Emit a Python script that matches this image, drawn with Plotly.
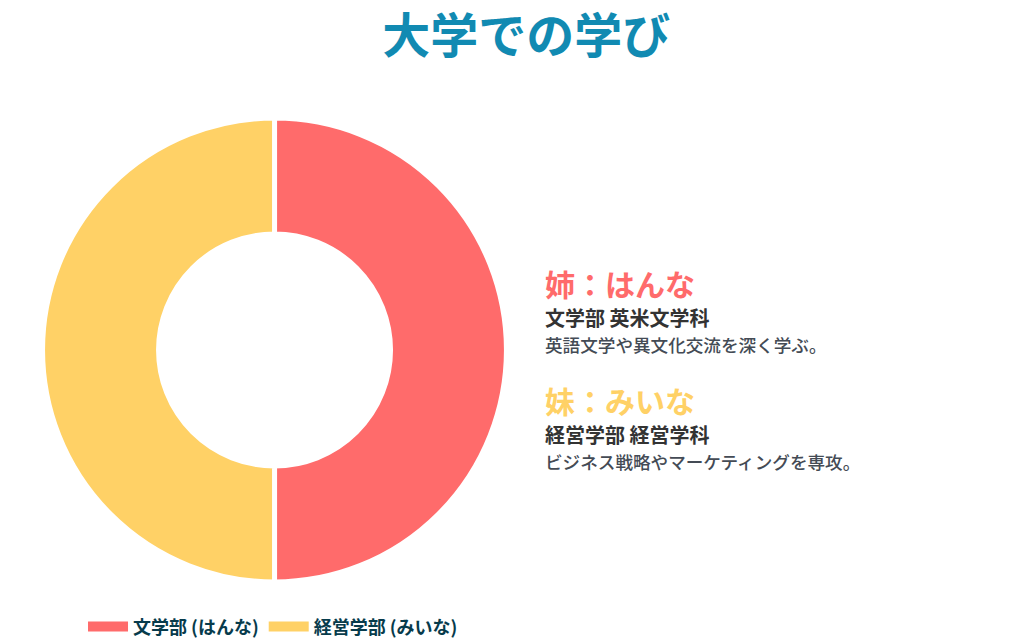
import plotly.graph_objects as go

# data
labels = ['文学部 (はんな)', '経営学部 (みいな)']
values = [50, 50]
colors = ['#FF6B6B', '#FFD166']

names = ['姉：はんな', '妹：みいな']
departments = ['文学部 英米文学科', '経営学部 経営学科']
descriptions = ['英語文学や異文化交流を深く学ぶ。', 'ビジネス戦略やマーケティングを専攻。']

FONT = 'Noto Sans CJK JP'

fig = go.Figure()

fig.add_trace(go.Pie(
    labels=labels,
    values=values,
    hole=0.5,
    sort=False,
    direction='clockwise',
    marker=dict(colors=colors, line=dict(color='white', width=5)),
    textinfo='none',
    hoverinfo='label+percent',
    showlegend=False,
    domain=dict(x=[0.0338, 0.4878], y=[0.1087, 0.8292]),
))

# legend entries drawn as wide colour bars
for label, color in zip(labels, colors):
    fig.add_trace(go.Scatter(
        x=[None], y=[None], mode='lines', name=label,
        line=dict(color=color, width=11),
        hoverinfo='skip',
    ))

# text block on the right
y_starts = [0.573, 0.391]
for i in range(len(names)):
    y0 = y_starts[i]
    fig.add_annotation(x=0.5235, y=y0, xref='paper', yref='paper',
                       xanchor='left', yanchor='middle', showarrow=False,
                       text=f'<b>{names[i]}</b>',
                       font=dict(family=FONT, size=30, color=colors[i]))
    fig.add_annotation(x=0.5235, y=y0 - 0.053, xref='paper', yref='paper',
                       xanchor='left', yanchor='middle', showarrow=False,
                       text=f'<b>{departments[i]}</b>',
                       font=dict(family=FONT, size=20, color='#333333'))
    fig.add_annotation(x=0.5235, y=y0 - 0.095, xref='paper', yref='paper',
                       xanchor='left', yanchor='middle', showarrow=False,
                       text=descriptions[i],
                       font=dict(family=FONT, size=17.6, color='#444b55', weight=500))

fig.update_layout(
    title=dict(text='<b>大学での学び</b>', x=0.507, xanchor='center',
               y=0.957, yanchor='middle',
               font=dict(family=FONT, size=48, color='#118AB2')),
    width=1022, height=644,
    margin=dict(l=0, r=0, t=0, b=0),
    paper_bgcolor='white', plot_bgcolor='white',
    xaxis=dict(visible=False), yaxis=dict(visible=False),
    font=dict(family=FONT),
    legend=dict(orientation='h', x=0.0734, y=0.039, xanchor='left', yanchor='middle',
                font=dict(family=FONT, size=18, color='#073B4C', weight='bold'),
                itemwidth=40),
)

fig.write_html('out.html')
